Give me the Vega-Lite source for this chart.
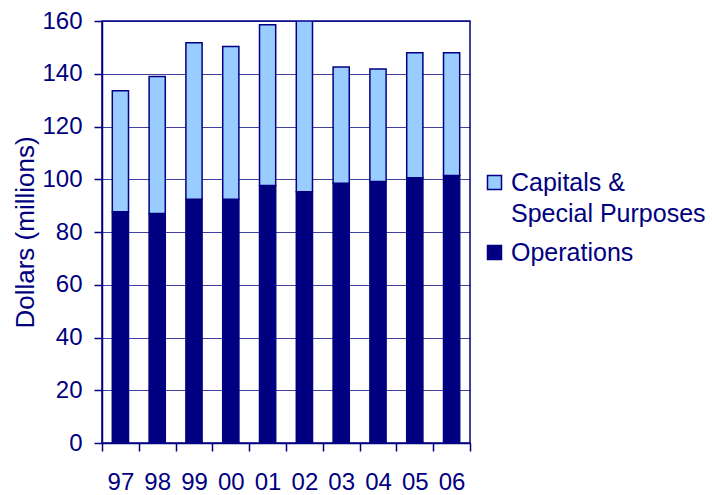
{
  "$schema": "https://vega.github.io/schema/vega-lite/v6.json",
  "width": 368,
  "height": 422,
  "autosize": "none",
  "padding": {"left": 102, "top": 21, "right": 242, "bottom": 52},
  "background": "white",
  "config": {
    "font": "Liberation Sans",
    "view": {"stroke": "#000080", "strokeWidth": 1.5},
    "axis": {
      "labelFont": "Liberation Sans",
      "labelColor": "#000080",
      "labelFontSize": 24,
      "titleFont": "Liberation Sans",
      "titleColor": "#000080",
      "titleFontSize": 26,
      "titleFontWeight": "normal",
      "domainColor": "#000080",
      "domainWidth": 1.5,
      "tickColor": "#000080",
      "tickWidth": 1.5,
      "tickSize": 8
    },
    "legend": {
      "labelFont": "Liberation Sans",
      "labelColor": "#000080",
      "labelFontSize": 25
    }
  },
  "data": {
    "values": [
      {"year": "97", "series": "Operations", "value": 87.7},
      {"year": "97", "series": "Capitals & Special Purposes", "value": 45.9},
      {"year": "98", "series": "Operations", "value": 87.0},
      {"year": "98", "series": "Capitals & Special Purposes", "value": 52.0},
      {"year": "99", "series": "Operations", "value": 92.4},
      {"year": "99", "series": "Capitals & Special Purposes", "value": 59.4},
      {"year": "00", "series": "Operations", "value": 92.4},
      {"year": "00", "series": "Capitals & Special Purposes", "value": 57.9},
      {"year": "01", "series": "Operations", "value": 97.6},
      {"year": "01", "series": "Capitals & Special Purposes", "value": 61.0},
      {"year": "02", "series": "Operations", "value": 95.3},
      {"year": "02", "series": "Capitals & Special Purposes", "value": 64.7},
      {"year": "03", "series": "Operations", "value": 98.5},
      {"year": "03", "series": "Capitals & Special Purposes", "value": 44.1},
      {"year": "04", "series": "Operations", "value": 99.1},
      {"year": "04", "series": "Capitals & Special Purposes", "value": 42.7},
      {"year": "05", "series": "Operations", "value": 100.6},
      {"year": "05", "series": "Capitals & Special Purposes", "value": 47.4},
      {"year": "06", "series": "Operations", "value": 101.4},
      {"year": "06", "series": "Capitals & Special Purposes", "value": 46.6}
    ]
  },
  "mark": {
    "type": "bar",
    "width": {"band": 0.44},
    "stroke": "#000080",
    "strokeWidth": 1.5,
    "clip": true
  },
  "encoding": {
    "x": {
      "field": "year",
      "type": "nominal",
      "sort": null,
      "scale": {"paddingInner": 0, "paddingOuter": 0},
      "axis": {
        "title": null,
        "labelAngle": 0,
        "labelPadding": 19,
        "tickBand": "extent",
        "grid": false
      }
    },
    "y": {
      "field": "value",
      "type": "quantitative",
      "stack": "zero",
      "scale": {"domain": [0, 160], "nice": false},
      "axis": {
        "title": "Dollars (millions)",
        "values": [0, 20, 40, 60, 80, 100, 120, 140, 160],
        "grid": true,
        "gridColor": "#000080",
        "gridOpacity": 0.75,
        "gridWidth": 1,
        "labelPadding": 12,
        "titlePadding": 3
      }
    },
    "color": {
      "field": "series",
      "type": "nominal",
      "scale": {
        "domain": ["Capitals & Special Purposes", "Operations"],
        "range": ["#99CCFF", "#000080"]
      },
      "legend": {
        "title": null,
        "orient": "none",
        "legendX": 380,
        "legendY": 149,
        "symbolType": "square",
        "symbolSize": 196,
        "symbolStrokeColor": "#000080",
        "symbolStrokeWidth": 1.5,
        "labelOffset": 4,
        "rowPadding": 13,
        "labelLimit": 300,
        "labelExpr": "datum.label == 'Capitals & Special Purposes' ? ['Capitals &', 'Special Purposes'] : datum.label",
        "encode": {
          "labels": {"update": {"lineHeight": {"value": 31}}}
        }
      }
    },
    "order": {"field": "series", "sort": "descending"}
  }
}
